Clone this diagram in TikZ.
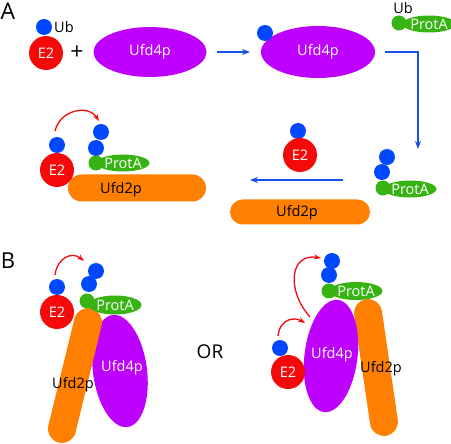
\documentclass[tikz,border=0pt]{standalone}
\usepackage{fontspec}
\setmainfont{Open Sans}
\usetikzlibrary{shapes.geometric,arrows.meta}
\definecolor{ubblue}{RGB}{0,72,255}
\definecolor{e2red}{RGB}{245,10,10}
\definecolor{ufdpurple}{RGB}{190,0,255}
\definecolor{protgreen}{RGB}{55,180,20}
\definecolor{ufdorange}{RGB}{255,128,0}
\definecolor{arrowblue}{RGB}{25,80,235}
\tikzset{
 lbl/.style={font=\fontsize{14.5}{16}\selectfont},
 ub/.style={circle,fill=ubblue,minimum size=16pt,inner sep=0pt},
 gub/.style={circle,fill=protgreen,minimum size=15pt,inner sep=0pt},
 e2/.style={circle,fill=e2red,minimum size=34pt,inner sep=0pt,text=white,lbl},
 prota/.style={ellipse,fill=protgreen,minimum width=41pt,minimum height=17pt,inner sep=0pt,text=white,lbl},
 ufdfour/.style={ellipse,fill=ufdpurple,inner sep=0pt},
 ufdtwo/.style={rectangle,rounded corners=13.5pt,fill=ufdorange,minimum height=27pt,inner sep=0pt},
 wtext/.style={text=white,lbl,inner sep=0pt},
 ktext/.style={text=black,lbl,inner sep=0pt},
 barrow/.style={arrowblue,line width=1.4pt,-{Stealth[length=8pt,width=6pt]}},
 rarrow/.style={e2red,line width=1.3pt,-{Stealth[length=7pt,width=5pt]}},
}
\begin{document}
\begin{tikzpicture}[x=1pt,y=-1pt]
\useasboundingbox (0,0) rectangle (451,444);
% ---------- Panel A ----------
\node[inner sep=0pt,font=\fontsize{23}{25}\selectfont] (labA) at (8,11) {A};
% E2~Ub + Ufd4p
\node[ub] (a1ub) at (44,27) {};
\node[ktext,anchor=west] (a1ubt) at (54,27) {Ub};
\node[e2] (a1e2) at (46,53) {E2};
\node[inner sep=0pt,font=\fontsize{23}{25}\selectfont] (plus) at (77,53) {+};
\node[ufdfour,minimum width=113pt,minimum height=50pt,wtext] (a1u4) at (150,52) {Ufd4p};
% arrow 1
\coordinate (ar1s) at (217,52);
\coordinate (ar1e) at (250,52);
\draw[barrow] (ar1s) -- (ar1e);
% Ufd4p~Ub
\node[ufdfour,minimum width=114pt,minimum height=52pt,wtext] (a2u4) at (318,52) {Ufd4p};
\node[ub] (a2ub) at (265,33) {};
% Ub-ProtA top right
\node[ktext] (a3ubt) at (403,8) {Ub};
\node[prota] (a3pa) at (429,24) {ProtA};
\node[gub] (a3g) at (399,23) {};
% bent arrow
\coordinate (ar2s) at (385,52);
\coordinate (ar2e) at (418,149);
\draw[barrow] (ar2s) -| (ar2e);
% Ub2-ProtA lower right
\node[prota] (a4pa) at (410,189) {ProtA};
\node[gub] (a4g) at (383,188) {};
\node[ub] (a4ub1) at (382,172) {};
\node[ub] (a4ub2) at (387,157) {};
% arrow left
\coordinate (ar3s) at (343,180);
\coordinate (ar3e) at (250,180);
\draw[barrow] (ar3s) -- (ar3e);
% middle E2~Ub and Ufd2p
\node[ub] (a5ub) at (298,131) {};
\node[e2] (a5e2) at (300,155) {E2};
\node[ufdtwo,minimum width=140pt,minimum height=25pt,rounded corners=12.5pt] (a5u2) at (300,212) {};
\node[ktext] (a5u2t) at (297,213) {Ufd2p};
% lower left complex
\node[ufdtwo,minimum width=138pt] (a6u2) at (137,188) {};
\node[ktext] (a6u2t) at (121,190) {Ufd2p};
\node[e2] (a6e2) at (57,170) {E2};
\node[ub] (a6ub) at (57,145) {};
\node[prota] (a6pa) at (123,163) {ProtA};
\node[gub] (a6g) at (96,163) {};
\node[ub] (a6ub1) at (96,148) {};
\node[ub] (a6ub2) at (101,132) {};
\coordinate (ar4s) at (55,131);
\coordinate (ar4e) at (99,121);
\draw[rarrow] (ar4s) .. controls (60,110) and (88,104) .. (ar4e);
% ---------- Panel B ----------
\node[inner sep=0pt,font=\fontsize{22}{24}\selectfont] (labB) at (8,261) {B};
% left model
\node[ufdfour,minimum width=113pt,minimum height=54pt,rotate=97.6] (b1u4) at (120,371) {};
\node[wtext] (b1u4t) at (122,368) {Ufd4p};
\node[ufdtwo,minimum width=138pt,minimum height=28pt,rounded corners=14pt,rotate=76.3] (b1u2) at (75,375.5) {};
\node[ktext] (b1u2t) at (73,385) {Ufd2p};
\node[e2] (b1e2) at (57,312) {E2};
\node[ub] (b1ub) at (57,287) {};
\node[prota,minimum height=19pt] (b1pa) at (115,305) {ProtA};
\node[gub] (b1g) at (87,301) {};
\node[ub] (b1ub1) at (89,284) {};
\node[ub] (b1ub2) at (96,271) {};
\coordinate (ar5s) at (55,275);
\coordinate (ar5e) at (84,261);
\draw[rarrow] (ar5s) .. controls (57,258) and (72,251) .. (ar5e);
% OR
\node[inner sep=0pt,font=\fontsize{19}{21}\selectfont] (or) at (210,352) {OR};
% right model
\node[ufdtwo,minimum width=138pt,minimum height=28pt,rounded corners=14pt,rotate=98.3] (b2u2) at (376,367.5) {};
\node[ktext] (b2u2t) at (381,369) {Ufd2p};
\node[ufdfour,minimum width=113pt,minimum height=53pt,rotate=82.9] (b2u4) at (331,356) {};
\node[wtext] (b2u4t) at (332,355) {Ufd4p};
\node[e2] (b2e2) at (288,372) {E2};
\node[ub] (b2ub) at (280,348) {};
\node[prota,minimum height=18pt] (b2pa) at (356,291) {ProtA};
\node[gub] (b2g) at (329,291) {};
\node[ub] (b2ub1) at (329,275) {};
\node[ub] (b2ub2) at (332,261) {};
\coordinate (ar6s) at (310,317);
\coordinate (ar6e) at (321,258);
\draw[rarrow] (ar6s) .. controls (286,290) and (290,253) .. (ar6e);
\coordinate (ar7s) at (278,336);
\coordinate (ar7e) at (305,323);
\draw[rarrow] (ar7s) .. controls (280,318) and (295,317) .. (ar7e);
\end{tikzpicture}
\end{document}
